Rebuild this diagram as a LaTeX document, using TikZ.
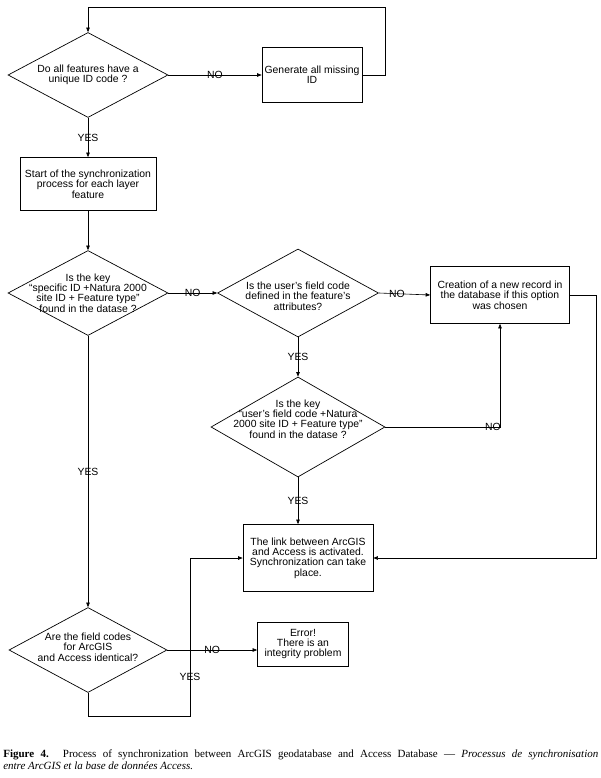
\documentclass[tikz,border=0pt]{standalone}
\usepackage{fontspec}
\setmainfont{Liberation Serif}
\setsansfont{Liberation Sans}
\usepackage{tikz}
\usetikzlibrary{arrows.meta,shapes.geometric}

\begin{document}
\begin{tikzpicture}[x=1pt,y=-1pt,font=\sffamily\fontsize{10.4}{10.4}\selectfont,
    line width=0.6pt,
    stepbox/.style={draw,rectangle,align=center,inner sep=1pt,line width=0.7pt},
    decision/.style={draw,diamond,inner sep=0pt,line width=0.7pt},
    dtext/.style={align=center,inner sep=0pt},
    arr/.style={-{Triangle[length=4.5pt,width=3.5pt]}},
    lbl/.style={inner sep=1pt}]
    \useasboundingbox (0,0) rectangle (600,778);

    \node[decision,minimum width=160pt,minimum height=85pt,label={[dtext]center:{Do all features have a\\unique ID code ?}}] (qid) at (88,75) {};
    \node[stepbox,minimum width=100pt,minimum height=55pt] (genid) at (312,75) {Generate all missing\\ID};
    \node[stepbox,minimum width=136pt,minimum height=53pt] (start) at (88,184) {Start of the synchronization\\process for each layer\\feature};

    \node[decision,minimum width=160pt,minimum height=85pt,label={[dtext]center:{Is the key\\“specific ID +Natura 2000\\site ID + Feature type”\\found in the datase ?}}] (qkey) at (88,293) {};
    \node[decision,minimum width=161pt,minimum height=88pt,label={[dtext,yshift=-3pt]center:{Is the user’s field code\\defined in the feature’s\\attributes?}}] (quser) at (298,293) {};
    \node[stepbox,minimum width=139pt,minimum height=57pt] (newrec) at (500,295) {Creation of a new record in\\the database if this option\\was chosen};
    \node[decision,minimum width=174pt,minimum height=100pt,label={[dtext,yshift=8pt]center:{Is the key\\“user’s field code +Natura\\2000 site ID + Feature type”\\found in the datase ?}}] (qukey) at (298,427) {};
    \node[stepbox,minimum width=130pt,minimum height=67pt] (link) at (308,558) {The link between ArcGIS\\and Access is activated.\\Synchronization can take\\place.};

    \node[decision,minimum width=158pt,minimum height=85pt,label={[dtext,yshift=3pt]center:{Are the field codes\\for ArcGIS\\and Access identical?}}] (qcodes) at (88,650) {};
    \node[stepbox,minimum width=91pt,minimum height=44pt] (error) at (303,644) {Error!\\There is an\\integrity problem};

    \coordinate (topright) at (385,7);
    \coordinate (farright) at (596,0);
    \coordinate (botleft) at (190,716);

    \draw[arr] (qid.east) -- node[lbl] {NO} (genid.west);
    \draw[arr] (genid.east) -| (topright) -| (qid.north);
    \draw[arr] (qid.south) -- node[lbl] {YES} (start.north);
    \draw[arr] (start.south) -- (qkey.north);
    \draw[arr] (qkey.east) -- node[lbl] {NO} (quser.west);
    \draw[arr] (quser.east) -- node[lbl,pos=0.35] {NO} (newrec.west);
    \draw[arr] (quser.south) -- node[lbl] {YES} (qukey.north);
    \draw[arr] (qukey.east) -| (newrec.south) node[lbl,pos=0.5,anchor=east,xshift=2pt] {NO};
    \draw[arr] (qukey.south) -- node[lbl] {YES} (qukey.south |- link.north);
    \draw[arr] (newrec.east) -| (farright |- link.east) -- (link.east);
    \draw[arr] (qkey.south) -- node[lbl] {YES} (qcodes.north);
    \draw[arr] (qcodes.east) -- node[lbl] {NO} (qcodes.east -| error.west);
    \draw[arr] (qcodes.south) |- (botleft) -- (botleft |- link.west) node[lbl,pos=0.25] {YES} -- (link.west);

    \node[anchor=north west,text width=595pt,align=justify,inner sep=0pt,font=\rmfamily\fontsize{11}{12}\selectfont] (caption) at (3,749)
      {\textbf{Figure 4.} Process of synchronization between ArcGIS geodatabase and Access Database --- \textit{Processus de synchronisation\linebreak entre ArcGIS et la base de données Access.}};
  \end{tikzpicture}
\end{document}
